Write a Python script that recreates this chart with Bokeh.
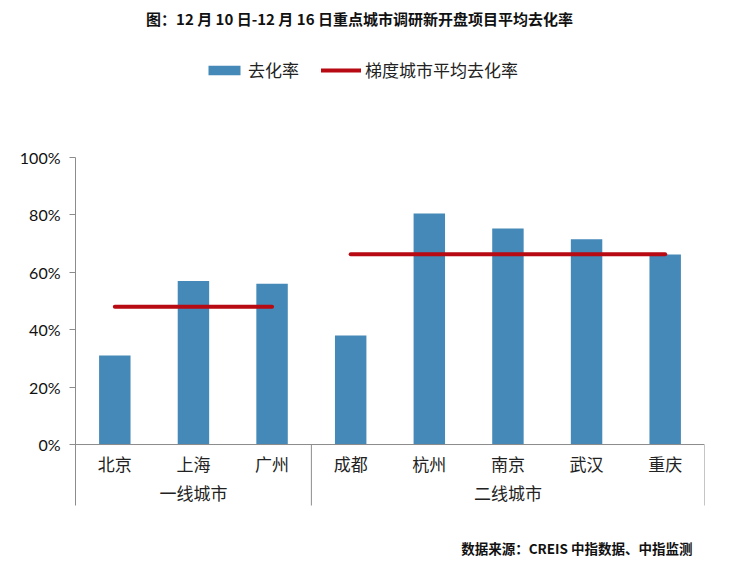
from bokeh.plotting import figure
from bokeh.models import Range1d, FixedTicker, Span, NumeralTickFormatter
from bokeh.core.properties import value
from bokeh.embed import file_html
from bokeh.resources import INLINE

# ---- data ----
cities = ["北京", "上海", "广州", "成都", "杭州", "南京", "武汉", "重庆"]
rates = [0.31, 0.57, 0.56, 0.38, 0.805, 0.753, 0.715, 0.662]
groups = ["一线城市", "二线城市"]
group_sizes = [3, 5]
group_avgs = [0.48, 0.663]
y_ticks = [0, 0.2, 0.4, 0.6, 0.8, 1.0]
title_text = "图：12 月 10 日-12 月 16 日重点城市调研新开盘项目平均去化率"
source_text = "数据来源：CREIS 中指数据、中指监测"

# ---- style ----
BAR = "#4589B8"
RED = "#B80A12"
GRAY = "#8C8C8C"
CJK = "Noto Sans CJK SC"

Y_BOTTOM, Y_TOP = -0.425, 1.547
SEP_BOTTOM = -0.2125
CAT_Y = -0.066
GROUP_Y = -0.167

n = len(cities)
xc = [i + 0.5 for i in range(n)]

p = figure(width=716, height=566, x_range=Range1d(0, n), y_range=Range1d(Y_BOTTOM, Y_TOP),
           output_backend="svg", toolbar_location=None, x_axis_location=None,
           min_border_left=75, min_border_right=12, min_border_top=0, min_border_bottom=0)
p.grid.visible = False
p.outline_line_color = None
p.background_fill_color = "white"

ax = p.yaxis[0]
ax.ticker = FixedTicker(ticks=y_ticks)
ax.formatter = NumeralTickFormatter(format="0%")
ax.bounds = (SEP_BOTTOM, 1.0)
ax.axis_line_color = GRAY
ax.major_tick_line_color = GRAY
ax.major_tick_out = 6
ax.major_tick_in = 0
ax.minor_tick_line_color = None
ax.major_label_text_font = "Lato"
ax.major_label_text_font_size = "16px"
ax.major_label_text_color = "#111111"
ax.major_label_standoff = 9

# x baseline
p.add_layout(Span(location=0, dimension="width", line_color=GRAY, line_width=1))

# group separators
bounds = []
acc = 0
for s in group_sizes:
    acc += s
    bounds.append(acc)
p.segment(x0=bounds, y0=[0] * len(bounds), x1=bounds, y1=[SEP_BOTTOM] * len(bounds),
          line_color=GRAY, line_width=1)

# bars
p.vbar(x=xc, top=rates, width=0.4, fill_color=BAR, line_color=None, legend_label="去化率")

# group averages
starts = [b - s for b, s in zip(bounds, group_sizes)]
p.segment(x0=[s + 0.5 for s in starts], x1=[b - 0.5 for b in bounds],
          y0=group_avgs, y1=group_avgs, line_color=RED, line_width=4, line_cap="round",
          legend_label="梯度城市平均去化率")

# category labels
p.text(x=xc, y=[CAT_Y] * n, text=cities, text_align="center", text_baseline="middle",
       text_font=value(CJK), text_font_size="17px", text_color="#222222")
# group labels
gx = [(s + b) / 2 for s, b in zip(starts, bounds)]
p.text(x=gx, y=[GROUP_Y] * len(groups), text=groups, text_align="center", text_baseline="middle",
       text_font=value(CJK), text_font_size="17px", text_color="#222222")

# title
p.text(x=[3.612], y=[1.484], text=[title_text], text_align="center", text_baseline="middle",
       text_font=value(CJK), text_font_size="15px", text_font_style="bold", text_color="#111111")
# source
p.text(x=[7.847], y=[-0.359], text=[source_text], text_align="right", text_baseline="middle",
       text_font=value(CJK), text_font_size="13.5px", text_font_style="bold", text_color="#111111")

lg = p.legend[0]
lg.orientation = "horizontal"
lg.location = (129, 484)
lg.border_line_color = None
lg.background_fill_alpha = 0
lg.padding = 0
lg.margin = 0
lg.spacing = 22
lg.glyph_width = 40
lg.glyph_height = 12
lg.label_standoff = 4
lg.label_text_font = CJK
lg.label_text_font_size = "17px"
lg.label_text_color = "#222222"

open("out.html", "w").write(file_html(p, INLINE))
